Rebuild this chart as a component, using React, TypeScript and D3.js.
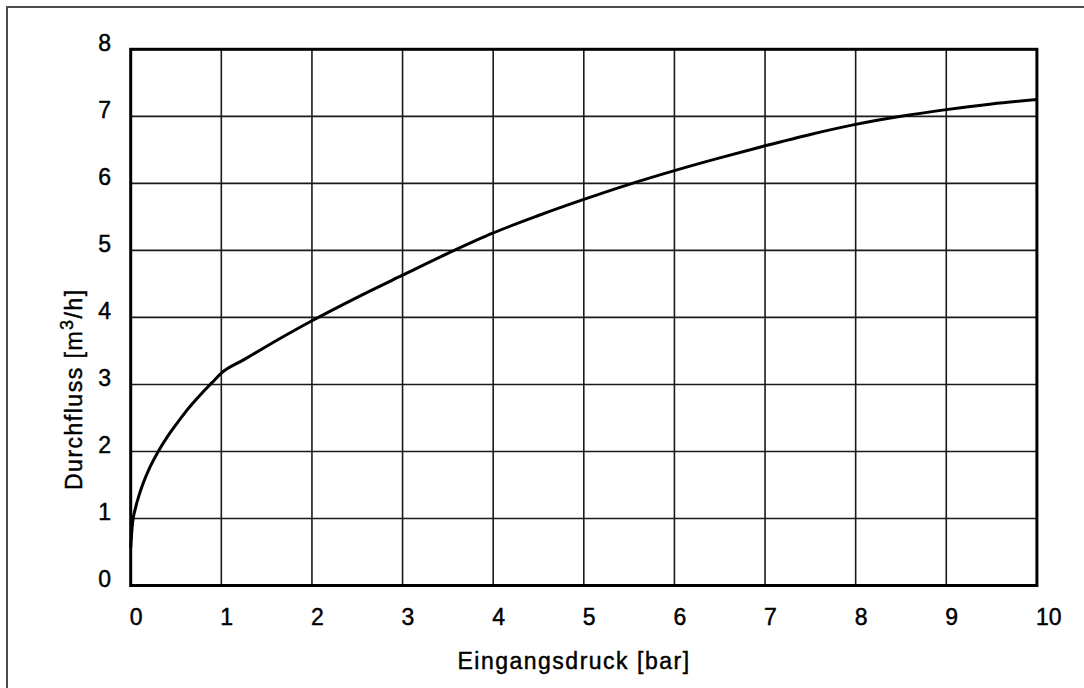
import React from "react";
import * as d3 from "d3";

const pressure = [0, 0.02, 0.05, 0.1, 0.2, 0.3, 0.4, 0.5, 0.6, 0.7, 0.8, 0.9, 1, 1.25, 1.5, 2, 2.5, 3, 3.5, 4, 4.5, 5, 5.5, 6, 6.5, 7, 7.5, 8, 8.5, 9, 9.5, 10];
const flow = [0.56, 0.93, 1.14, 1.38, 1.73, 1.99, 2.21, 2.4, 2.58, 2.74, 2.89, 3.03, 3.17, 3.37, 3.57, 3.95, 4.3, 4.63, 4.955, 5.26, 5.52, 5.76, 5.985, 6.19, 6.38, 6.56, 6.73, 6.88, 7.0, 7.1, 7.185, 7.25];
const xTicks = [0, 1, 2, 3, 4, 5, 6, 7, 8, 9, 10];
const yTicks = [0, 1, 2, 3, 4, 5, 6, 7, 8];
const xTitle = "Eingangsdruck [bar]";
const yTitleMain = "Durchfluss [m";
const yTitleSup = "3";
const yTitleEnd = "/h]";

const W = 1084;
const H = 688;
const left = 130.7;
const right = 1036.9;
const top = 49.3;
const bottom = 585.5;
const FONT = "'Liberation Sans', Arial, Helvetica, sans-serif";

export default function App() {
  const x = d3.scaleLinear().domain([0, 10]).range([left, right]);
  const y = d3.scaleLinear().domain([0, 8]).range([bottom, top]);
  const pts: [number, number][] = pressure.map((p, i) => [p, flow[i]]);
  const line = d3
    .line<[number, number]>()
    .x((d) => x(d[0]))
    .y((d) => y(d[1]))
    .curve(d3.curveMonotoneX);

  return (
    <div style={{ position: "fixed", left: 0, top: 0 }}>
      <svg width={W} height={H} style={{ display: "block", background: "#fff" }}>
        <rect x={7} y={7} width={W + 20} height={H + 20} fill="none" stroke="#3a3a3a" strokeWidth={1.8} />
        {xTicks.map((t) => (
          <line key={"gx" + t} x1={x(t)} x2={x(t)} y1={top} y2={bottom} stroke="#1a1a1a" strokeWidth={1.6} />
        ))}
        {yTicks.map((t) => (
          <line key={"gy" + t} x1={left} x2={right} y1={y(t)} y2={y(t)} stroke="#1a1a1a" strokeWidth={1.6} />
        ))}
        <path d={line(pts) || ""} fill="none" stroke="#000" strokeWidth={3} strokeLinejoin="round" />
        <rect x={left} y={top} width={right - left} height={bottom - top} fill="none" stroke="#000" strokeWidth={3} />
        <g fontFamily={FONT} fontSize={23} fill="#000" stroke="#000" strokeWidth={0.45}>
          {yTicks.map((t) => (
            <text key={"ly" + t} x={111} y={y(t) + 1.5} textAnchor="end">
              {t}
            </text>
          ))}
          {xTicks.map((t) => (
            <text key={"lx" + t} x={x(t) - 1} y={625} textAnchor="start">
              {t}
            </text>
          ))}
          <text x={574} y={669} textAnchor="middle" letterSpacing={1.5}>
            {xTitle}
          </text>
          <text transform="translate(82,490) rotate(-90)" textAnchor="start" letterSpacing={1.5}>
            {yTitleMain}
            <tspan fontSize={18} dy={-9}>
              {yTitleSup}
            </tspan>
            <tspan dy={9}>{yTitleEnd}</tspan>
          </text>
        </g>
      </svg>
    </div>
  );
}
